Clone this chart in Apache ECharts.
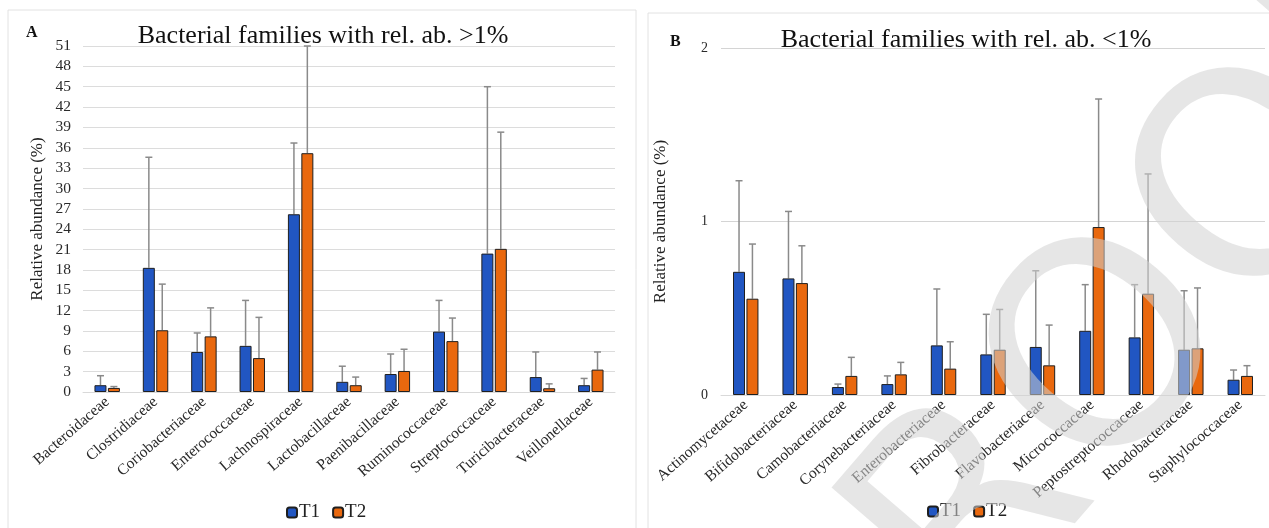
<!DOCTYPE html>
<html>
<head>
<meta charset="utf-8">
<script src="https://cdn.jsdelivr.net/npm/echarts@6/dist/echarts.min.js"></script>
<style>
html, body { margin: 0; padding: 0; background: #fff; }
#chart { width: 1269px; height: 528px; }
</style>
</head>
<body>
<div id="chart"></div>
<script>
// panel A: families > 1%
var catsA = ['Bacteroidaceae', 'Clostridiaceae', 'Coriobacteriaceae', 'Enterococcaceae', 'Lachnospiraceae',
	'Lactobacillaceae', 'Paenibacillaceae', 'Ruminococcaceae', 'Streptococcaceae', 'Turicibacteraceae', 'Veillonellaceae']
var t1A = [1.0, 18.3, 5.9, 6.8, 26.2, 1.5, 2.65, 8.9, 20.4, 2.2, 1.0]
var t1A_sd = [1.4, 16.3, 2.8, 6.7, 10.5, 2.3, 2.95, 4.6, 24.6, 3.7, 1.0]
var t2A = [0.6, 9.1, 8.2, 5.0, 35.2, 1.0, 3.1, 7.5, 21.1, 0.55, 3.3]
var t2A_sd = [0.2, 6.8, 4.2, 6.0, 15.8, 1.2, 3.2, 3.4, 17.2, 0.65, 2.6]

// panel B: families < 1%
var catsB = ['Actinomycetaceae', 'Bifidobacteriaceae', 'Camobacteriaceae', 'Corynebacteriaceae', 'Enterobacteriaceae',
	'Fibrobacteraceae', 'Flavobacteriaceae', 'Micrococcaceae', 'Peptostreptococcaceae', 'Rhodobacteraceae', 'Staphylococcaceae']
var t1B = [0.71, 0.672, 0.046, 0.063, 0.286, 0.234, 0.277, 0.37, 0.332, 0.261, 0.088]
var t1B_sd = [0.525, 0.386, 0.017, 0.047, 0.325, 0.231, 0.439, 0.266, 0.304, 0.34, 0.056]
var t2B = [0.555, 0.645, 0.11, 0.119, 0.152, 0.261, 0.171, 0.968, 0.584, 0.269, 0.11]
var t2B_sd = [0.315, 0.215, 0.107, 0.069, 0.155, 0.232, 0.232, 0.738, 0.69, 0.348, 0.059]

var serif = '"Liberation Serif", "DejaVu Serif", serif'
var blue = '#2156c2'
var orange = '#e9680e'
var barW = 12
var barOff = 6.7

function errData(mean, sd) {
	var out = []
	mean.forEach(function(v, i) {
		out.push([i, v, v + sd[i]])
	})
	return out
}

function errRender(offset) {
	return function(params, api) {
		var base = api.coord([api.value(0), api.value(1)])
		var top = api.coord([api.value(0), api.value(2)])
		var x = base[0] + offset
		var st = { stroke: '#8a8a8a', lineWidth: 1.5 }
		return {
			type: 'group',
			children: [
				{ type: 'line', shape: { x1: x, y1: base[1], x2: x, y2: top[1] }, style: st },
				{ type: 'line', shape: { x1: x - 3.5, y1: top[1], x2: x + 3.5, y2: top[1] }, style: st }
			]
		}
	}
}

function barSeries(name, data, color, axis) {
	return {
		name: name,
		type: 'bar',
		xAxisIndex: axis,
		yAxisIndex: axis,
		data: data,
		barWidth: barW,
		barGap: '12%',
		itemStyle: { color: color, borderColor: '#1f1f1f', borderWidth: 1 },
		z: 2
	}
}

function errSeries(mean, sd, offset, axis) {
	return {
		type: 'custom',
		xAxisIndex: axis,
		yAxisIndex: axis,
		data: errData(mean, sd),
		renderItem: errRender(offset),
		silent: true,
		z: 1
	}
}

var catAxis = function(idx, cats) {
	return {
		type: 'category',
		gridIndex: idx,
		data: cats,
		axisTick: { show: false },
		axisLine: { lineStyle: { color: '#d9d9d9' } },
		axisLabel: {
			interval: 0,
			rotate: 41,
			margin: 8,
			fontFamily: serif,
			fontSize: 15.5,
			color: '#2a2a2a'
		}
	}
}

var myEchart = echarts.init(document.getElementById('chart'))
var option = {
	animation: false,
	textStyle: { fontFamily: serif },
	title: [{
		text: 'Bacterial families with rel. ab. >1%',
		left: 318,
		top: 18,
		textAlign: 'center',
		textStyle: { fontFamily: serif, fontSize: 26, fontWeight: 'normal', color: '#111' }
	}, {
		text: 'Bacterial families with rel. ab. <1%',
		left: 961,
		top: 22,
		textAlign: 'center',
		textStyle: { fontFamily: serif, fontSize: 26, fontWeight: 'normal', color: '#111' }
	}, {
		text: 'A',
		left: 21,
		top: 20,
		textStyle: { fontFamily: serif, fontSize: 16, fontWeight: 'bold', color: '#111' }
	}, {
		text: 'B',
		left: 665,
		top: 29,
		textStyle: { fontFamily: serif, fontSize: 16, fontWeight: 'bold', color: '#111' }
	}],
	legend: [{
		data: ['T1', 'T2'],
		left: 281,
		top: 498,
		itemWidth: 10,
		itemHeight: 10,
		itemGap: 12,
		textStyle: { fontFamily: serif, fontSize: 19, color: '#222', padding: [0, 0, 0, -3] }
	}, {
		data: ['T1', 'T2'],
		left: 922,
		top: 497,
		itemWidth: 10,
		itemHeight: 10,
		itemGap: 12,
		textStyle: { fontFamily: serif, fontSize: 19, color: '#222', padding: [0, 0, 0, -3] }
	}],
	grid: [
		{ left: 83, right: 654, top: 46, bottom: 136 },
		{ left: 721, right: 4, top: 48, bottom: 133 }
	],
	xAxis: [catAxis(0, catsA), catAxis(1, catsB)],
	yAxis: [{
		type: 'value',
		gridIndex: 0,
		min: 0,
		max: 51,
		interval: 3,
		name: 'Relative abundance (%)',
		nameLocation: 'middle',
		nameGap: 37,
		nameTextStyle: { fontFamily: serif, fontSize: 17, color: '#222' },
		axisLine: { show: false },
		axisTick: { show: false },
		splitLine: { lineStyle: { color: '#dcdcdc' } },
		axisLabel: { margin: 12, fontFamily: serif, fontSize: 15.5, color: '#2a2a2a' }
	}, {
		type: 'value',
		gridIndex: 1,
		min: 0,
		max: 2,
		interval: 1,
		name: 'Relative abundance (%)',
		nameLocation: 'middle',
		nameGap: 52,
		nameTextStyle: { fontFamily: serif, fontSize: 17, color: '#222' },
		axisLine: { show: false },
		axisTick: { show: false },
		splitLine: { lineStyle: { color: '#d4d4d4' } },
		axisLabel: { margin: 13, fontFamily: serif, fontSize: 14, color: '#2a2a2a' }
	}],
	graphic: [{
		type: 'rect',
		shape: { x: 8, y: 10, width: 628, height: 530 },
		style: { fill: 'none', stroke: '#e2e2e2', lineWidth: 1 },
		silent: true
	}, {
		type: 'rect',
		shape: { x: 648, y: 13, width: 640, height: 530 },
		style: { fill: 'none', stroke: '#e2e2e2', lineWidth: 1 },
		silent: true
	}, {
		type: 'text',
		x: 1123,
		y: 354,
		rotation: 0.86,
		z: 100,
		silent: true,
		style: {
			text: 'PROOF',
			font: '285px "DejaVu Sans"',
			fill: 'rgba(210,210,210,0.55)',
			align: 'center',
			verticalAlign: 'middle'
		}
	}],
	series: [
		barSeries('T1', t1A, blue, 0),
		barSeries('T2', t2A, orange, 0),
		errSeries(t1A, t1A_sd, -barOff, 0),
		errSeries(t2A, t2A_sd, barOff, 0),
		barSeries('T1', t1B, blue, 1),
		barSeries('T2', t2B, orange, 1),
		errSeries(t1B, t1B_sd, -barOff, 1),
		errSeries(t2B, t2B_sd, barOff, 1)
	]
}
myEchart.setOption(option)
</script>
</body>
</html>
